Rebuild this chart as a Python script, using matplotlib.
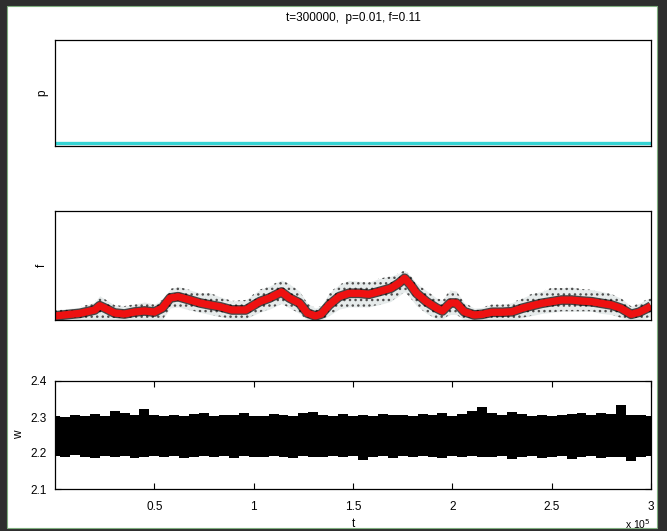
import numpy as np
import matplotlib
matplotlib.use("Agg")
import matplotlib.pyplot as plt
from matplotlib.patches import Rectangle

plt.rcParams['font.family'] = ['Liberation Sans', 'DejaVu Sans']
plt.rcParams['hatch.linewidth'] = 1.0

# time axis in units of 1e5
t_p = [0.0, 0.25, 0.5, 0.75, 1.0, 1.25, 1.5, 1.75, 2.0, 2.25, 2.5, 2.75, 3.0]
p_vals = [0.010, 0.010, 0.010, 0.010, 0.010, 0.010, 0.010, 0.010, 0.010, 0.010, 0.010, 0.010, 0.010]

t_f = [0.0, 0.075, 0.125, 0.2, 0.225, 0.25, 0.3, 0.35, 0.4, 0.45, 0.5, 0.54, 0.58, 0.62,
       0.68, 0.73, 0.78, 0.83, 0.89, 0.96, 1.03, 1.08, 1.14, 1.18, 1.23, 1.27, 1.31, 1.34,
       1.38, 1.43, 1.48, 1.53, 1.58, 1.63, 1.69, 1.73, 1.76, 1.79, 1.82, 1.87, 1.92, 1.95,
       1.99, 2.02, 2.06, 2.11, 2.15, 2.2, 2.25, 2.3, 2.35, 2.4, 2.45, 2.5, 2.55, 2.6, 2.65,
       2.7, 2.75, 2.8, 2.85, 2.9, 2.94, 2.98, 3.0]
f_mean = [0.037, 0.052, 0.061, 0.092, 0.131, 0.110, 0.064, 0.055, 0.073, 0.083, 0.073, 0.110,
          0.202, 0.214, 0.183, 0.156, 0.138, 0.122, 0.092, 0.092, 0.168, 0.202, 0.257, 0.202,
          0.156, 0.064, 0.037, 0.055, 0.138, 0.214, 0.245, 0.245, 0.236, 0.260, 0.291, 0.337,
          0.383, 0.321, 0.245, 0.168, 0.110, 0.083, 0.156, 0.156, 0.076, 0.046, 0.052, 0.071,
          0.071, 0.076, 0.107, 0.131, 0.153, 0.168, 0.183, 0.183, 0.174, 0.168, 0.153, 0.138,
          0.107, 0.052, 0.071, 0.107, 0.128]
f_hi = [0.092, 0.107, 0.116, 0.165, 0.223, 0.193, 0.137, 0.128, 0.146, 0.166, 0.146, 0.183,
        0.285, 0.306, 0.275, 0.248, 0.248, 0.214, 0.175, 0.184, 0.278, 0.312, 0.367, 0.330,
        0.266, 0.156, 0.110, 0.128, 0.248, 0.324, 0.364, 0.355, 0.346, 0.379, 0.401, 0.429,
        0.456, 0.404, 0.337, 0.269, 0.202, 0.184, 0.275, 0.266, 0.159, 0.110, 0.116, 0.144,
        0.144, 0.159, 0.199, 0.241, 0.263, 0.296, 0.293, 0.302, 0.284, 0.278, 0.263, 0.239,
        0.199, 0.125, 0.154, 0.190, 0.201]
f_lo = [0.0, 0.0, 0.0, 0.0, 0.0, 0.0, 0.0, 0.0, 0.0, 0.0, 0.0, 0.0,
        0.11, 0.12, 0.09, 0.07, 0.05, 0.03, 0.01, 0.01, 0.07, 0.10, 0.15, 0.11,
        0.06, 0.0, 0.0, 0.0, 0.04, 0.10, 0.12, 0.12, 0.12, 0.14, 0.17, 0.22,
        0.26, 0.20, 0.13, 0.06, 0.01, 0.01, 0.05, 0.05, 0.0, 0.0, 0.0, 0.0,
        0.0, 0.0, 0.02, 0.04, 0.06, 0.07, 0.08, 0.08, 0.08, 0.08, 0.06, 0.05,
        0.02, 0.0, 0.0, 0.02, 0.03]

t_w = [0.0, 0.05, 0.1, 0.15, 0.2, 0.25, 0.3, 0.35, 0.4, 0.45, 0.5, 0.55, 0.6, 0.65, 0.7,
       0.75, 0.8, 0.85, 0.9, 0.95, 1.0, 1.05, 1.1, 1.15, 1.2, 1.25, 1.3, 1.35, 1.4, 1.45,
       1.5, 1.55, 1.6, 1.65, 1.7, 1.75, 1.8, 1.85, 1.9, 1.95, 2.0, 2.05, 2.1, 2.15, 2.2,
       2.25, 2.3, 2.35, 2.4, 2.45, 2.5, 2.55, 2.6, 2.65, 2.7, 2.75, 2.8, 2.85, 2.9, 2.95, 3.0]
w_hi = [2.302, 2.300, 2.305, 2.303, 2.308, 2.304, 2.318, 2.312, 2.306, 2.322,
        2.305, 2.303, 2.306, 2.302, 2.308, 2.310, 2.304, 2.306, 2.305, 2.312,
        2.304, 2.302, 2.309, 2.306, 2.304, 2.310, 2.314, 2.305, 2.303, 2.308,
        2.304, 2.306, 2.302, 2.309, 2.305, 2.306, 2.303, 2.307, 2.305, 2.310,
        2.304, 2.309, 2.318, 2.328, 2.310, 2.306, 2.315, 2.308, 2.304, 2.306,
        2.303, 2.305, 2.308, 2.310, 2.306, 2.312, 2.309, 2.332, 2.306, 2.305, 2.303]
w_lo = [2.192, 2.188, 2.194, 2.190, 2.186, 2.192, 2.189, 2.193, 2.185, 2.190,
        2.192, 2.188, 2.191, 2.186, 2.190, 2.193, 2.189, 2.191, 2.187, 2.192,
        2.190, 2.188, 2.191, 2.189, 2.186, 2.192, 2.190, 2.188, 2.193, 2.189,
        2.191, 2.180, 2.190, 2.192, 2.187, 2.191, 2.189, 2.193, 2.190, 2.186,
        2.191, 2.189, 2.192, 2.188, 2.190, 2.193, 2.182, 2.189, 2.191, 2.187,
        2.190, 2.192, 2.184, 2.189, 2.191, 2.186, 2.190, 2.188, 2.178, 2.189, 2.191]

x_ticks = [0.5, 1.0, 1.5, 2.0, 2.5, 3.0]
x_tick_labels = ['0.5', '1', '1.5', '2', '2.5', '3']
w_ticks = [2.1, 2.2, 2.3, 2.4]
w_tick_labels = ['2.1', '2.2', '2.3', '2.4']

W, H = 667, 531
fig = plt.figure(figsize=(W / 100, H / 100), dpi=100, facecolor='#2e2e2e')
fig.add_artist(Rectangle((7 / W, 3 / H), 650 / W, 522 / H, transform=fig.transFigure,
                         facecolor='white', edgecolor='#7fae7f', lw=0.8, zorder=-10))

def box(y_top, y_bot):
    return [55 / W, (H - y_bot) / H, 596 / W, (y_bot - y_top) / H]

ax_p = fig.add_axes(box(40, 146))
ax_f = fig.add_axes(box(211, 320))
ax_w = fig.add_axes(box(381, 489))

fs = 8.5
for ax in (ax_p, ax_f, ax_w):
    ax.set_xlim(0, 3)
    ax.set_facecolor('white')
    for s in ax.spines.values():
        s.set_linewidth(0.9)
        s.set_color('black')

# p panel
ax_p.plot(t_p, p_vals, color='#35d4d4', lw=2.4, solid_capstyle='butt')
ax_p.set_ylim(0, 0.35)
ax_p.set_xticks([])
ax_p.set_yticks([])
ax_p.set_ylabel('p', fontsize=fs, labelpad=5)
ax_p.set_title('t=300000,  p=0.01, f=0.11', fontsize=fs, pad=14)

# f panel: scatter of the individual runs as a speckled band, mean on top
ax_f.fill_between(t_f, f_lo, f_hi, color='#d2dcdc', alpha=0.55, lw=0)
ax_f.fill_between(t_f, f_lo, f_hi, facecolor='none', edgecolor='#505050',
                  hatch='...', lw=0)
ax_f.plot(t_f, f_mean, color='black', lw=7.0, alpha=0.7, solid_capstyle='butt')
ax_f.plot(t_f, f_mean, color='#ee1111', lw=5.2, solid_capstyle='butt')
ax_f.set_ylim(0, 1)
ax_f.set_xticks([])
ax_f.set_yticks([])
ax_f.set_ylabel('f', fontsize=fs, labelpad=5)

# w panel
ax_w.fill_between(t_w, w_lo, w_hi, step='mid', color='black', lw=0)
ax_w.set_ylim(2.1, 2.4)
ax_w.set_xticks(x_ticks)
ax_w.set_xticklabels(x_tick_labels, fontsize=fs)
ax_w.set_yticks(w_ticks)
ax_w.set_yticklabels(w_tick_labels, fontsize=fs)
ax_w.tick_params(direction='in', length=4, width=0.8, top=True, right=True)
ax_w.tick_params(axis='x', pad=9)
ax_w.tick_params(axis='y', pad=6)
ax_w.set_xlabel('t', fontsize=fs, labelpad=3)
ax_w.set_ylabel('w', fontsize=fs, labelpad=4)
ax_w.text(1.0, -0.26, r'x 10$^5$', transform=ax_w.transAxes, ha='right', va='top', fontsize=7.5)

fig.savefig('out.png', dpi=100, facecolor=fig.get_facecolor())
